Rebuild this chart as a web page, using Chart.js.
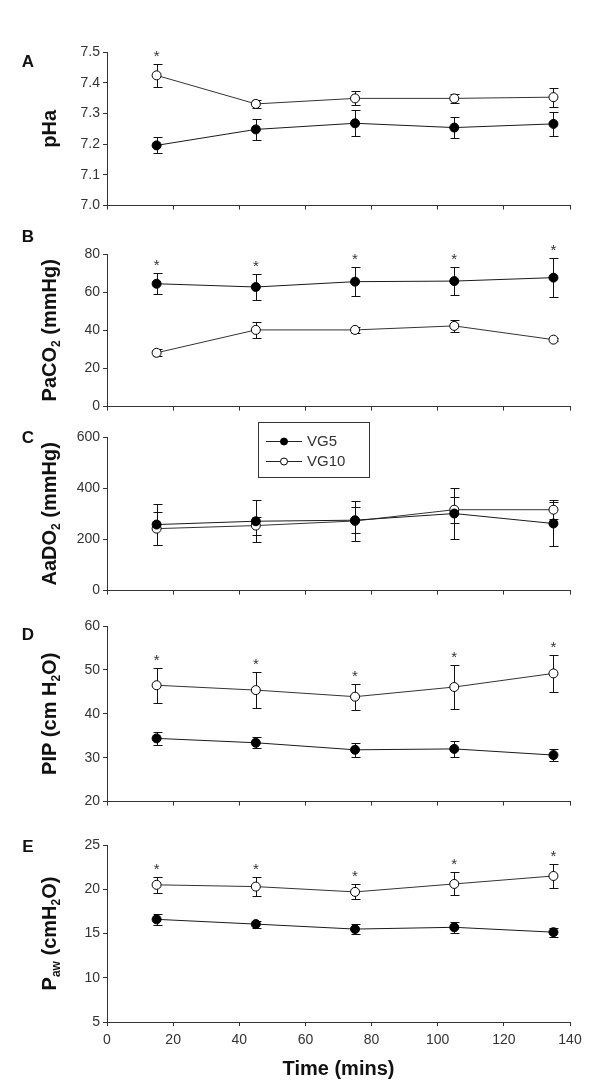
<!DOCTYPE html>
<html><head><meta charset="utf-8">
<script src="https://cdn.jsdelivr.net/npm/chart.js@4.4.0/dist/chart.umd.min.js"></script>
<style>
html,body{margin:0;padding:0;background:#fff;}
#wrap{position:relative;width:600px;height:1089px;background:#fff;overflow:hidden;}
.panel{position:absolute;left:0;width:600px;}
</style></head><body><div id="wrap"></div>
<script>
// ---------------- data ----------------
const times = [15, 45, 75, 105, 135];
const xTickValues = [0, 20, 40, 60, 80, 100, 120, 140];
const xTickLabels = ['0', '20', '40', '60', '80', '100', '120', '140'];
const seriesNames = ['VG5', 'VG10'];
const panelLetters = ['A', 'B', 'C', 'D', 'E'];

// A: pHa
const phTicks = [7.0, 7.1, 7.2, 7.3, 7.4, 7.5];
const phTickLabels = ['7.0', '7.1', '7.2', '7.3', '7.4', '7.5'];
const phVG5 = [7.196, 7.248, 7.268, 7.254, 7.266];
const phVG5Err = [0.026, 0.033, 0.042, 0.034, 0.040];
const phVG10 = [7.424, 7.331, 7.349, 7.349, 7.353];
const phVG10Err = [0.037, 0.014, 0.023, 0.014, 0.031];
const phSig = [true, false, false, false, false];

// B: PaCO2
const co2Ticks = [0, 20, 40, 60, 80];
const co2TickLabels = ['0', '20', '40', '60', '80'];
const co2VG5 = [64.4, 62.7, 65.5, 65.8, 67.6];
const co2VG5Err = [5.6, 7.0, 7.6, 7.4, 10.3];
const co2VG10 = [28.2, 40.2, 40.2, 42.3, 35.1];
const co2VG10Err = [1.9, 4.3, 1.4, 3.3, 0.7];
const co2Sig = [true, true, true, true, true];

// C: AaDO2
const aaTicks = [0, 200, 400, 600];
const aaTickLabels = ['0', '200', '400', '600'];
const aaVG5 = [258, 271, 275, 301, 262];
const aaVG5Err = [80, 81, 50, 98, 86];
const aaVG10 = [242, 254, 272, 316, 316];
const aaVG10Err = [65, 35, 78, 50, 38];
const aaSig = [false, false, false, false, false];

// D: PIP
const pipTicks = [20, 30, 40, 50, 60];
const pipTickLabels = ['20', '30', '40', '50', '60'];
const pipVG5 = [34.4, 33.4, 31.8, 32.0, 30.6];
const pipVG5Err = [1.5, 1.3, 1.6, 1.8, 1.4];
const pipVG10 = [46.5, 45.4, 43.9, 46.1, 49.2];
const pipVG10Err = [4.0, 4.1, 3.0, 5.1, 4.2];
const pipSig = [true, true, true, true, true];

// E: Paw
const pawTicks = [5, 10, 15, 20, 25];
const pawTickLabels = ['5', '10', '15', '20', '25'];
const pawVG5 = [16.6, 16.06, 15.5, 15.7, 15.15];
const pawVG5Err = [0.65, 0.4, 0.6, 0.65, 0.5];
const pawVG10 = [20.5, 20.3, 19.7, 20.6, 21.5];
const pawVG10Err = [0.92, 1.1, 0.85, 1.3, 1.4];
const pawSig = [true, true, true, true, true];

const xTitle = 'Time (mins)';

// ---------------- layout / style ----------------
const FONT = '"Liberation Sans", Arial, Helvetica, sans-serif';
const PAD_TOP = 30;
const PLOT_LEFT = 107, PLOT_RIGHT = 570, PAGE_W = 600, PAGE_H = 1089;

const panels = [
  {letter: panelLetters[0], top: 52, bottom: 207, letterY: 62,
   ticks: phTicks, tickLabels: phTickLabels,
   vg5: phVG5, vg5Err: phVG5Err, vg10: phVG10, vg10Err: phVG10Err, sig: phSig,
   title: [{t: 'pHa'}]},
  {letter: panelLetters[1], top: 254, bottom: 408, letterY: 237,
   ticks: co2Ticks, tickLabels: co2TickLabels,
   vg5: co2VG5, vg5Err: co2VG5Err, vg10: co2VG10, vg10Err: co2VG10Err, sig: co2Sig,
   title: [{t: 'PaCO'}, {t: '2', sub: true}, {t: ' (mmHg)'}]},
  {letter: panelLetters[2], top: 437, bottom: 592, letterY: 438, legend: true,
   ticks: aaTicks, tickLabels: aaTickLabels,
   vg5: aaVG5, vg5Err: aaVG5Err, vg10: aaVG10, vg10Err: aaVG10Err, sig: aaSig,
   title: [{t: 'AaDO'}, {t: '2', sub: true}, {t: ' (mmHg)'}]},
  {letter: panelLetters[3], top: 626, bottom: 803, letterY: 635,
   ticks: pipTicks, tickLabels: pipTickLabels,
   vg5: pipVG5, vg5Err: pipVG5Err, vg10: pipVG10, vg10Err: pipVG10Err, sig: pipSig,
   title: [{t: 'PIP (cm H'}, {t: '2', sub: true}, {t: 'O)'}]},
  {letter: panelLetters[4], top: 845, bottom: 1022, letterY: 847, showX: true,
   ticks: pawTicks, tickLabels: pawTickLabels,
   vg5: pawVG5, vg5Err: pawVG5Err, vg10: pawVG10, vg10Err: pawVG10Err, sig: pawSig,
   title: [{t: 'P'}, {t: 'aw', sub: true}, {t: ' (cmH'}, {t: '2', sub: true}, {t: 'O)'}]}
];

function crisp(v) { return Math.round(v) + 0.5; }

function makePlugin(p, canvasTop) {
  return {
    id: 'panelDecor',
    beforeDatasetsDraw(chart) {
      const ctx = chart.ctx, ys = chart.scales.y;
      const errs = [p.vg5Err, p.vg10Err];
      chart.data.datasets.forEach((ds, di) => {
        const meta = chart.getDatasetMeta(di);
        ds.data.forEach((pt, i) => {
          const e = errs[di][i];
          const x = crisp(meta.data[i].x);
          const yT = Math.round(ys.getPixelForValue(pt.y + e)) + 0.5;
          const yB = Math.round(ys.getPixelForValue(pt.y - e)) + 0.5;
          ctx.save();
          ctx.strokeStyle = '#111';
          ctx.lineWidth = 1;
          ctx.beginPath();
          ctx.moveTo(x, yT); ctx.lineTo(x, yB);
          ctx.moveTo(x - 4, yT); ctx.lineTo(x + 5, yT);
          ctx.moveTo(x - 4, yB); ctx.lineTo(x + 5, yB);
          ctx.stroke();
          ctx.restore();
        });
      });
    },
    afterDatasetsDraw(chart) {
      const ctx = chart.ctx, ys = chart.scales.y, xs = chart.scales.x;
      ctx.save();
      ctx.fillStyle = '#333';
      ctx.font = '15px ' + FONT;
      ctx.textAlign = 'center';
      ctx.textBaseline = 'alphabetic';
      p.sig.forEach((s, i) => {
        if (!s) return;
        const topVal = Math.max(p.vg5[i] + p.vg5Err[i], p.vg10[i] + p.vg10Err[i]);
        const yTop = ys.getPixelForValue(topVal);
        ctx.fillText('*', xs.getPixelForValue(times[i]), yTop - 12 + 9);
      });
      ctx.restore();
    },
    afterDraw(chart) {
      const ctx = chart.ctx, ca = chart.chartArea;
      // y-axis title with subscripts
      ctx.save();
      ctx.translate(50, (ca.top + ca.bottom) / 2);
      ctx.rotate(-Math.PI / 2);
      ctx.fillStyle = '#111';
      ctx.textBaseline = 'middle';
      ctx.textAlign = 'left';
      const big = 'bold 20px ' + FONT, small = 'bold 12px ' + FONT;
      let total = 0;
      p.title.forEach(s => { ctx.font = s.sub ? small : big; total += ctx.measureText(s.t).width; });
      let x = -total / 2;
      p.title.forEach(s => {
        ctx.font = s.sub ? small : big;
        ctx.fillText(s.t, x, s.sub ? 7 : 0);
        x += ctx.measureText(s.t).width;
      });
      ctx.restore();
      // panel letter
      ctx.save();
      ctx.fillStyle = '#111';
      ctx.font = 'bold 17px ' + FONT;
      ctx.textAlign = 'center';
      ctx.textBaseline = 'middle';
      ctx.fillText(p.letter, 28, p.letterY - canvasTop);
      ctx.restore();
      // legend box (panel C)
      if (p.legend) {
        const bx = 258, by = 422 - canvasTop, bw = 111, bh = 55;
        ctx.save();
        ctx.fillStyle = '#fff';
        ctx.fillRect(bx, by, bw, bh);
        ctx.strokeStyle = '#333';
        ctx.lineWidth = 1;
        ctx.strokeRect(bx + 0.5, by + 0.5, bw, bh);
        const rows = [{name: seriesNames[0], fill: '#000', y: by + 19.5},
                      {name: seriesNames[1], fill: '#fff', y: by + 39.5}];
        rows.forEach(r => {
          ctx.beginPath();
          ctx.moveTo(266, r.y); ctx.lineTo(302, r.y);
          ctx.strokeStyle = '#222';
          ctx.stroke();
          ctx.beginPath();
          ctx.arc(284, r.y, 3.5, 0, Math.PI * 2);
          ctx.fillStyle = r.fill;
          ctx.fill();
          ctx.strokeStyle = '#000';
          ctx.stroke();
          ctx.fillStyle = '#333';
          ctx.font = '15px ' + FONT;
          ctx.textAlign = 'left';
          ctx.textBaseline = 'middle';
          ctx.fillText(r.name, 307, r.y);
        });
        ctx.restore();
      }
    }
  };
}

const wrap = document.getElementById('wrap');
panels.forEach((p) => {
  const xH = p.showX ? (PAGE_H - p.bottom) : 10;
  const canvasTop = p.top - PAD_TOP;
  const h = PAD_TOP + (p.bottom - p.top) + xH;
  const div = document.createElement('div');
  div.className = 'panel';
  div.style.top = canvasTop + 'px';
  div.style.height = h + 'px';
  const cv = document.createElement('canvas');
  div.appendChild(cv);
  wrap.appendChild(div);

  const mk = (vals) => times.map((t, i) => ({x: t, y: vals[i]}));
  new Chart(cv, {
    type: 'line',
    data: {
      datasets: [
        {label: seriesNames[0], data: mk(p.vg5), borderColor: '#1a1a1a', borderWidth: 1,
         pointRadius: 4.5, pointBackgroundColor: '#000', pointBorderColor: '#000', pointBorderWidth: 1, tension: 0},
        {label: seriesNames[1], data: mk(p.vg10), borderColor: '#333', borderWidth: 1,
         pointRadius: 4.5, pointBackgroundColor: '#fff', pointBorderColor: '#000', pointBorderWidth: 1, tension: 0}
      ]
    },
    options: {
      responsive: true,
      maintainAspectRatio: false,
      animation: false,
      events: [],
      layout: {padding: {top: PAD_TOP, right: PAGE_W - PLOT_RIGHT, left: 0, bottom: 0}},
      plugins: {legend: {display: false}, tooltip: {enabled: false}},
      scales: {
        x: {
          type: 'linear', min: 0, max: 140,
          afterBuildTicks: s => { s.ticks = xTickValues.map(v => ({value: v})); },
          afterFit: s => { s.height = xH; },
          grid: {display: true, drawOnChartArea: false, drawTicks: true, tickLength: 4, color: '#333'},
          border: {display: true, color: '#333', width: 1},
          ticks: {
            display: !!p.showX, padding: 6, color: '#333', font: {family: FONT, size: 14},
            maxRotation: 0, autoSkip: false,
            callback: (v) => xTickLabels[xTickValues.indexOf(v)]
          },
          title: {display: !!p.showX, text: xTitle, color: '#111',
                  font: {family: FONT, size: 20, weight: 'bold'}, padding: {top: 0, bottom: 8}}
        },
        y: {
          type: 'linear', min: p.ticks[0], max: p.ticks[p.ticks.length - 1],
          afterBuildTicks: s => { s.ticks = p.ticks.map(v => ({value: v})); },
          afterFit: s => { s.width = PLOT_LEFT; },
          grid: {display: true, drawOnChartArea: false, drawTicks: true, tickLength: 4, color: '#333'},
          border: {display: true, color: '#333', width: 1},
          ticks: {
            padding: 3, color: '#333', font: {family: FONT, size: 14}, autoSkip: false,
            callback: (v) => p.tickLabels[p.ticks.findIndex(t => Math.abs(t - v) < 1e-9)]
          }
        }
      }
    },
    plugins: [makePlugin(p, canvasTop)]
  });
});
</script>
</body></html>
